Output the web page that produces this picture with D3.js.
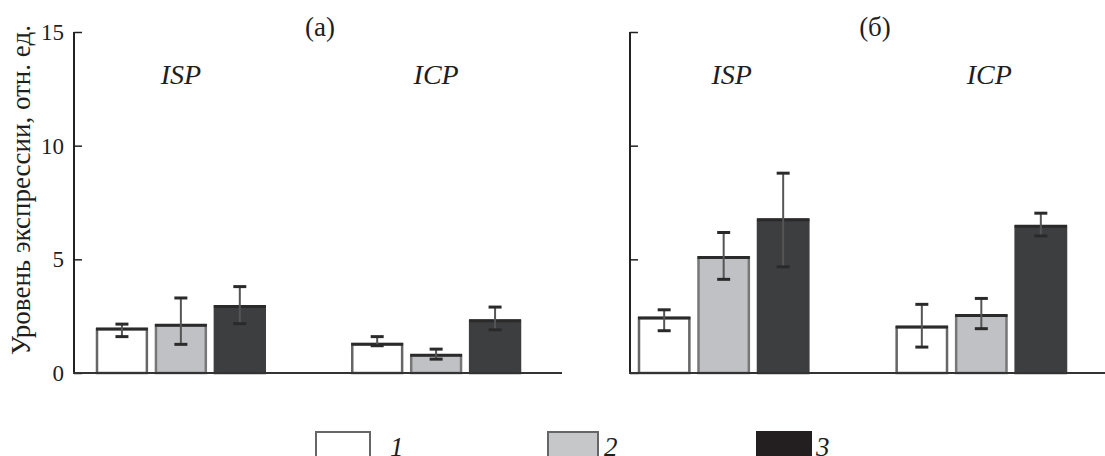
<!DOCTYPE html>
<html>
<head>
<meta charset="utf-8">
<script src="https://cdn.jsdelivr.net/npm/d3@7"></script>
<style>
  body { margin: 0; background: #fff; }
  text { font-family: "Liberation Serif", "DejaVu Serif", serif; fill: #1e1e1e; }
</style>
</head>
<body>
<svg id="chart" width="1105" height="456"></svg>
<script>
// data
var genes = ["ISP", "ICP"];
var series = ["1", "2", "3"];
var panelTitles = ["(а)", "(б)"];
var yTicks = [0, 5, 10, 15];

// panel (а)
var valuesA = [[1.93, 2.1, 2.93], [1.27, 0.78, 2.3]];
var lowA    = [[1.6, 1.26, 2.17], [1.2, 0.61, 1.9]];
var highA   = [[2.15, 3.3, 3.8], [1.6, 1.05, 2.9]];
// panel (б)
var valuesB = [[2.42, 5.08, 6.74], [2.02, 2.53, 6.45]];
var lowB    = [[1.86, 4.12, 4.67], [1.14, 1.95, 6.03]];
var highB   = [[2.78, 6.18, 8.79], [3.02, 3.28, 7.03]];

var fills = ["#ffffff", "#c0c1c4", "#3d3e40"];
var strokes = ["#666", "#777", "#3d3e40"];
var legendFills = ["#ffffff", "#c6c7c9", "#231f20"];

var svg = d3.select("#chart");

var y = d3.scaleLinear().domain([0, 15]).range([373, 32]);

var panels = [
  { title: panelTitles[0], axisX: 74, endX: 562, groupRange: [96, 521], vals: valuesA, lo: lowA, hi: highA, labels: true, titleX: 320 },
  { title: panelTitles[1], axisX: 630, endX: 1105, groupRange: [638, 1067], vals: valuesB, lo: lowB, hi: highB, labels: false, titleX: 875 }
];

panels.forEach(function(p) {
  var g = svg.append("g");

  var x0 = d3.scaleBand().domain(genes).range(p.groupRange).paddingInner(0.335).paddingOuter(0);
  var x1 = d3.scaleBand().domain(series).range([0, x0.bandwidth()]).paddingInner(0.12).paddingOuter(0);

  // y axis, ticks pointing inward
  var axis = d3.axisRight(y).tickValues(yTicks).tickSize(8).tickFormat("");
  var ax = g.append("g").attr("transform", "translate(" + p.axisX + ",0)").call(axis);
  ax.select(".domain").attr("stroke", "#222").attr("stroke-width", 2).attr("d", "M0," + y(15) + "V" + y(0));
  ax.selectAll(".tick line").attr("stroke", "#222").attr("stroke-width", 1.5);

  if (p.labels) {
    g.selectAll(".ylab").data(yTicks).enter().append("text")
      .attr("x", p.axisX - 10)
      .attr("y", function(d) { return y(d) + 8; })
      .attr("text-anchor", "end")
      .style("font-size", "23px")
      .text(function(d) { return d; });
  }

  // bars
  genes.forEach(function(gene, gi) {
    var gg = g.append("g").attr("transform", "translate(" + x0(gene) + ",0)");
    series.forEach(function(s, si) {
      var v = p.vals[gi][si];
      var bx = x1(s), bw = x1.bandwidth();
      gg.append("rect")
        .attr("x", bx + 1).attr("y", y(v))
        .attr("width", bw - 2).attr("height", y(0) - y(v))
        .attr("fill", fills[si]).attr("stroke", strokes[si]).attr("stroke-width", 2.5);
      gg.append("line")
        .attr("x1", bx).attr("x2", bx + bw)
        .attr("y1", y(v)).attr("y2", y(v))
        .attr("stroke", "#2a2a2a").attr("stroke-width", 3);
      // error bar
      var cx = bx + bw / 2;
      gg.append("line")
        .attr("x1", cx).attr("x2", cx)
        .attr("y1", y(p.hi[gi][si])).attr("y2", y(p.lo[gi][si]))
        .attr("stroke", "#555").attr("stroke-width", 2);
      [p.hi[gi][si], p.lo[gi][si]].forEach(function(e) {
        gg.append("line")
          .attr("x1", cx - 6.5).attr("x2", cx + 6.5)
          .attr("y1", y(e)).attr("y2", y(e))
          .attr("stroke", "#2a2a2a").attr("stroke-width", 3);
      });
    });
    g.append("text")
      .attr("x", x0(gene) + x0.bandwidth() / 2 + (p.labels ? 0 : 8))
      .attr("y", 84)
      .attr("text-anchor", "middle")
      .style("font-size", "28px").style("font-style", "italic")
      .text(gene);
  });

  // x axis line
  g.append("line")
    .attr("x1", p.axisX - 1).attr("x2", p.endX)
    .attr("y1", y(0)).attr("y2", y(0))
    .attr("stroke", "#333").attr("stroke-width", 2);

  g.append("text")
    .attr("x", p.titleX).attr("y", 36)
    .attr("text-anchor", "middle")
    .style("font-size", "27px")
    .text(p.title);
});

// y axis label
svg.append("text")
  .attr("transform", "translate(30,190) rotate(-90)")
  .attr("text-anchor", "middle")
  .style("font-size", "27px")
  .text("Уровень экспрессии, отн. ед.");

// legend
var legendPos = [316, 548, 757];
var legendW = [54, 50, 54];
var legendGap = [20, 6, 5];
var leg = svg.selectAll(".leg").data(series).enter().append("g")
  .attr("transform", function(d, i) { return "translate(" + legendPos[i] + ",432)"; });
leg.append("rect")
  .attr("width", function(d, i) { return legendW[i]; })
  .attr("height", 30)
  .attr("fill", function(d, i) { return legendFills[i]; })
  .attr("stroke", function(d, i) { return i === 2 ? "#231f20" : "#666"; })
  .attr("stroke-width", 2);
leg.append("text")
  .attr("x", function(d, i) { return legendW[i] + legendGap[i]; })
  .attr("y", 24)
  .style("font-size", "27px").style("font-style", "italic")
  .text(function(d) { return d; });
</script>
</body>
</html>
